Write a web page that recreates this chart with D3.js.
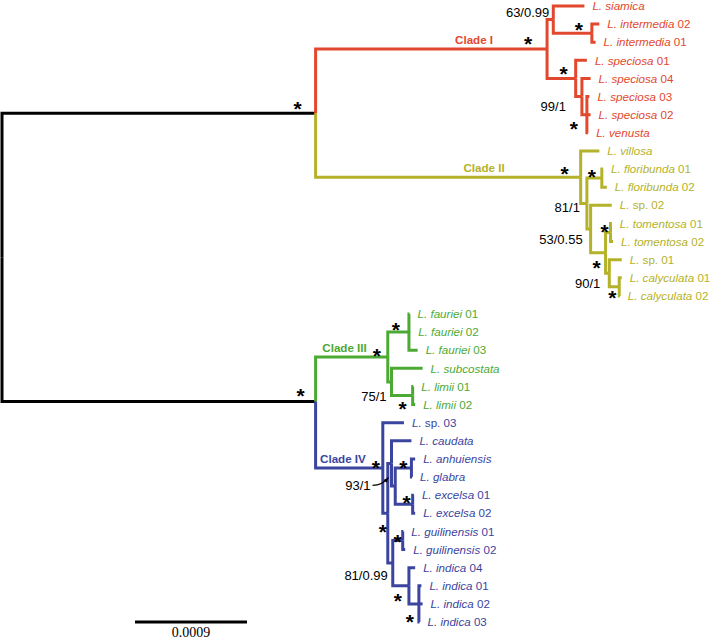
<!DOCTYPE html>
<html><head><meta charset="utf-8">
<script src="https://cdn.jsdelivr.net/npm/d3@7"></script>
<style>body{margin:0;background:#fff}svg{display:block}</style>
</head><body>
<svg id="chart" width="710" height="640"></svg>
<script>
// ---------------- data ----------------
// branch lengths in substitutions per site; internal labels = support (ML bootstrap / BI posterior, * = 100/1)
const cladeI = "(('L. siamica':0.00025,('L. intermedia 02':0.00006,'L. intermedia 01':0.00003)'*':0.00031)'63/0.99':0.00005,('L. speciosa 01':0.00009,('L. speciosa 04':0.00007,('L. speciosa 03':0.00002,'L. speciosa 02':0.00003,'L. venusta':0.00001)'*':0.00004)'99/1':0.00005)'*':0.00023)'*':0.00186";
const cladeII = "('L. villosa':0.00015,(('L. floribunda 01':0.00001,'L. floribunda 02':0.00004)'*':0.00012,('L. sp. 02':0.00017,(('L. tomentosa 01':0.00001,'L. tomentosa 02':0.00002)'*':0.00004,('L. sp. 01':0.0001,('L. calyculata 01':0.00002,'L. calyculata 02':0.000005)'*':0.00008)'90/1':0.00003)'*':0.00012)'53/0.55':0.00003)'81/1':0.00005)'*':0.00213";
const cladeIII = "(('L. fauriei 01':0.000005,'L. fauriei 02':0.00001,'L. fauriei 03':0.00007)'*':0.00017,('L. subcostata':0.00025,('L. limii 01':0.000005,'L. limii 02':0.00002)'*':0.00017)'75/1':0.00003)'*':0.00058";
const cladeIV = "('L. sp. 03':0.00017,(('L. caudata':0.00016,(('L. anhuiensis':0.00003,'L. glabra':0.000005)'*':0.00013,('L. excelsa 01':0.00001,'L. excelsa 02':0.00002)'*':0.00014):0.00003)'93/1':0.00003,(('L. guilinensis 01':0.000005,'L. guilinensis 02':0.00002)'*':0.00008,('L. indica 04':0.00005,('L. indica 01':0.00002,'L. indica 02':0.00003,'L. indica 03':0.000005)'*':0.00008)'*':0.00013)'81/0.99':0.00004)'*':0.00004)'*':0.00054";
const backboneLengths = [0.00252, 0.00252];
const backboneSupport = ["*", "*"];
const cladeNames = ["Clade I", "Clade II", "Clade III", "Clade IV"];
const scaleBarValue = 0.0009;
const scaleBarLabel = "0.0009";

// ---------------- layout / style ----------------
const cladeColors = ["#e2482d", "#b4b22a", "#4caa34", "#3b45a0"];
const W = 710, H = 640;
const X0 = 2, SCALE_PX = 112;
const Y0 = 6, Y1 = 622;
const LEAF_GAP = 8;
const cladeLabelDx = [-54, -76, -21, -17];
// vertical nudge of a backbone node (drawing adjustment), keyed "firstLeaf|lastLeaf"
const nodeNudge = { "L. fauriei 01|L. indica 03": -11 };
// support label placement relative to node, keyed "firstLeaf|lastLeaf"
const placement = {
  "L. siamica|L. calyculata 02": [-18, -9],
  "L. fauriei 01|L. indica 03": [-15, -10],
  "L. siamica|L. venusta": [-19, -10],
  "L. siamica|L. intermedia 01": [-4, -7],
  "L. intermedia 02|L. intermedia 01": [-13, -8],
  "L. speciosa 01|L. venusta": [-12, -9],
  "L. speciosa 04|L. venusta": [-16, 10],
  "L. speciosa 03|L. venusta": [-13, 10],
  "L. villosa|L. calyculata 02": [-16, -8],
  "L. floribunda 01|L. calyculata 02": [-7, 4],
  "L. floribunda 01|L. floribunda 02": [-10, -6],
  "L. sp. 02|L. calyculata 02": [-8, 10],
  "L. tomentosa 01|L. calyculata 02": [-9, 11],
  "L. tomentosa 01|L. tomentosa 02": [-6, -5],
  "L. sp. 01|L. calyculata 02": [-9, 10],
  "L. calyculata 01|L. calyculata 02": [-7, 7],
  "L. fauriei 01|L. limii 02": [-11, -6],
  "L. fauriei 01|L. fauriei 03": [-13, -7],
  "L. subcostata|L. limii 02": [-5, 14],
  "L. limii 01|L. limii 02": [-10, 9],
  "L. sp. 03|L. indica 03": [-7, -5],
  "L. caudata|L. indica 03": [-5, 14],
  "L. caudata|L. excelsa 02": [-21, 22],
  "L. anhuiensis|L. glabra": [-8, -5],
  "L. excelsa 01|L. excelsa 02": [-6, -6],
  "L. guilinensis 01|L. indica 03": [-5, 12],
  "L. guilinensis 01|L. guilinensis 02": [-5, -3],
  "L. indica 04|L. indica 03": [-11, 11],
  "L. indica 01|L. indica 03": [-9, 14]
};

// ---------------- newick parser ----------------
function parseNewick(s) {
  let i = 0;
  function label() {
    let t = "";
    if (s[i] === "'") { i++; while (s[i] !== "'") t += s[i++]; i++; }
    else { while (i < s.length && ",():;".indexOf(s[i]) < 0) t += s[i++]; }
    return t;
  }
  function num() { let t = ""; while (i < s.length && ",();".indexOf(s[i]) < 0) t += s[i++]; return +t; }
  function node() {
    const n = {};
    if (s[i] === "(") {
      i++; n.children = [];
      n.children.push(node());
      while (s[i] === ",") { i++; n.children.push(node()); }
      i++;
    }
    n.name = label();
    n.length = 0;
    if (s[i] === ":") { i++; n.length = num(); }
    return n;
  }
  return node();
}

const newick = "((" + cladeI + "," + cladeII + ")'" + backboneSupport[0] + "':" + backboneLengths[0] +
  ",(" + cladeIII + "," + cladeIV + ")'" + backboneSupport[1] + "':" + backboneLengths[1] + ");";
const root = d3.hierarchy(parseNewick(newick));

root.each(d => { d.dist = d.parent ? d.parent.dist + d.data.length : 0; });
const cladeRoots = [root.children[0].children[0], root.children[0].children[1], root.children[1].children[0], root.children[1].children[1]];
root.each(d => { d.clade = -1; });
cladeRoots.forEach((c, k) => c.each(d => { d.clade = k; }));

const keyOf = d => { const l = d.leaves(); return l[0].data.name + "|" + l[l.length - 1].data.name; };
const leaves = root.leaves();
const xScale = d3.scaleLinear().domain([0, scaleBarValue]).range([X0, X0 + SCALE_PX]);
const yScale = d3.scalePoint().domain(leaves.map(d => d.data.name)).range([Y0, Y1]);
root.eachAfter(d => {
  d.px = xScale(d.dist);
  if (!d.children) d.py = yScale(d.data.name);
  else d.py = (d.children[0].py + d.children[d.children.length - 1].py) / 2 + (nodeNudge[keyOf(d)] || 0);
});
const colorOf = d => d.clade < 0 ? "#000" : cladeColors[d.clade];

const svg = d3.select("#chart");
svg.append("rect").attr("width", W).attr("height", H).attr("fill", "#fff");

// branches
svg.append("g").selectAll("path").data(root.descendants().filter(d => d.parent))
  .join("path")
  .attr("d", d => `M${d.parent.px},${d.parent.py}V${d.py}H${d.px}`)
  .attr("fill", "none").attr("stroke", colorOf).attr("stroke-width", 3)
  .attr("stroke-linejoin", "miter").attr("stroke-linecap", "butt");

// leaf labels
const FONT = "'Liberation Sans', Arial, Helvetica, sans-serif";
const lab = svg.append("g").attr("font-family", FONT).attr("font-size", 11.6)
  .selectAll("text").data(leaves).join("text")
  .attr("x", d => d.px + LEAF_GAP).attr("y", d => d.py).attr("dy", "0.36em")
  .attr("fill", colorOf);
lab.each(function(d) {
  const name = d.data.name;
  const m = name.match(/^(L\.)( sp\. \d+)$/) || name.match(/^(L\. \S+)( \d+)?$/);
  const t = d3.select(this);
  t.append("tspan").attr("font-style", "italic").text(m[1]);
  if (m[2]) t.append("tspan").text(m[2]);
});

// support labels
const internal = root.descendants().filter(d => d.children && d.data.name);
const sg = svg.append("g").attr("font-family", FONT);
internal.forEach(d => {
  const off = placement[keyOf(d)] || [-8, -8];
  const x = d.px + off[0], y = d.py + off[1];
  if (d.data.name === "*") {
    sg.append("text").attr("x", x).attr("y", y + 11.5).attr("text-anchor", "middle")
      .attr("font-size", 21).attr("font-weight", "bold").attr("fill", "#000").text("*");
  } else {
    sg.append("text").attr("x", x).attr("y", y).attr("dy", "0.36em").attr("text-anchor", "end")
      .attr("font-size", 13).attr("fill", "#000").text(d.data.name);
    if (d.data.name === "93/1") {
      const sx = x + 2, sy = y, tx = d.px - 3, ty = d.py + 14;
      svg.append("path").attr("d", `M${sx},${sy}Q${tx - 6},${sy} ${tx},${ty}`)
        .attr("fill", "none").attr("stroke", "#000").attr("stroke-width", 1.2);
      svg.append("path").attr("d", `M${tx},${ty}l-5,2.5l3.2,2.8z`).attr("fill", "#000");
    }
  }
});

// clade labels
cladeRoots.forEach((c, k) => {
  svg.append("text").attr("x", c.px + cladeLabelDx[k]).attr("y", c.py - 5)
    .attr("text-anchor", "end").attr("font-family", FONT).attr("font-weight", "bold")
    .attr("font-size", 11.6).attr("fill", cladeColors[k]).text(cladeNames[k]);
});

// scale bar
const sbX = 135, sbY = 622;
const sbLen = xScale(scaleBarValue) - xScale(0);
svg.append("line").attr("x1", sbX).attr("x2", sbX + sbLen).attr("y1", sbY).attr("y2", sbY)
  .attr("stroke", "#000").attr("stroke-width", 3);
svg.append("text").attr("x", sbX + sbLen / 2).attr("y", sbY + 15).attr("text-anchor", "middle")
  .attr("font-family", "'Liberation Serif', 'Times New Roman', serif").attr("font-size", 14)
  .attr("fill", "#000").text(scaleBarLabel);
</script>
</body></html>
